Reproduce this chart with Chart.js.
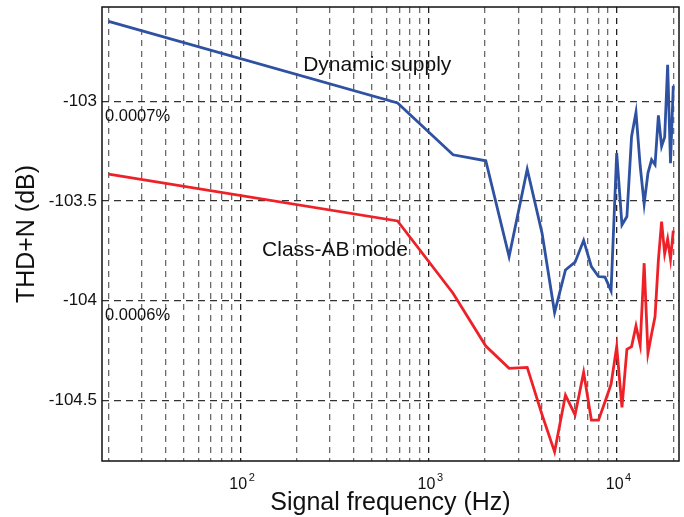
<!DOCTYPE html>
<html>
<head>
<meta charset="utf-8">
<script src="https://cdn.jsdelivr.net/npm/chart.js@4"></script>
<style>
  html, body { margin: 0; padding: 0; background: #fff; }
  #wrap { width: 684px; height: 517px; }
</style>
</head>
<body>
<div id="wrap"><canvas id="thdChart" width="684" height="517"></canvas></div>
<script>
// frequencies in Hz
const freqs = [20, 686, 1352, 2018, 2684, 3350, 4016, 4682, 5348, 6014, 6680,
  7346, 8012, 8678, 9344, 10010, 10676, 11342, 12008, 12674, 13340,
  14006, 14672, 15338, 16004, 16670, 17336, 18002, 18668, 19334, 20000];

// THD+N in dB
const dynamicSupply = [-102.598, -103.008, -103.268, -103.298, -103.779, -103.340,
  -103.661, -104.060, -103.846, -103.807, -103.698, -103.829, -103.879, -103.882,
  -103.951, -103.259, -103.620, -103.578, -103.176, -103.055, -103.323, -103.514,
  -103.360, -103.293, -103.318, -103.070, -103.226, -103.179, -102.816, -103.310,
  -102.921];

const classAB = [-103.365, -103.600, -103.963, -104.228, -104.340, -104.335,
  -104.572, -104.759, -104.474, -104.574, -104.360, -104.600, -104.600, -104.508,
  -104.419, -104.231, -104.536, -104.244, -104.231, -104.127, -104.223, -103.812,
  -104.264, -104.167, -104.080, -103.795, -103.603, -103.765, -103.691, -103.792,
  -103.648];

const gridFreqs = [20, 30, 40, 50, 60, 70, 80, 90,
  100, 200, 300, 400, 500, 600, 700, 800, 900,
  1000, 2000, 3000, 4000, 5000, 6000, 7000, 8000, 9000,
  10000, 20000];
const decadeTicks = [100, 1000, 10000];
const decadeExps = ['2', '3', '4'];
const yTicks = [-104.5, -104, -103.5, -103];

const FONT = 'Liberation Sans, Arial, Helvetica, sans-serif';

const pairs = vals => freqs.map((f, i) => ({ x: f, y: vals[i] }));

// frame, 10^n tick labels and the text inside the plot
const extras = {
  id: 'extras',
  afterDraw(chart) {
    const { ctx, chartArea: a, scales: { x, y } } = chart;
    ctx.save();
    ctx.strokeStyle = '#111';
    ctx.lineWidth = 1.5;
    ctx.strokeRect(a.left, a.top, a.right - a.left, a.bottom - a.top);

    ctx.fillStyle = '#111';
    ctx.textBaseline = 'alphabetic';
    decadeTicks.forEach((v, i) => {
      const px = x.getPixelForValue(v);
      ctx.font = '16px ' + FONT;
      ctx.textAlign = 'right';
      ctx.fillText('10', px + 7, a.bottom + 28);
      ctx.font = '11px ' + FONT;
      ctx.textAlign = 'left';
      ctx.fillText(decadeExps[i], px + 8.5, a.bottom + 20);
    });

    ctx.textBaseline = 'middle';
    ctx.textAlign = 'center';
    ctx.font = '21px ' + FONT;
    ctx.fillText('Dynamic supply', x.getPixelForValue(535), y.getPixelForValue(-102.82));
    ctx.fillText('Class-AB mode', x.getPixelForValue(319), y.getPixelForValue(-103.745));

    ctx.textAlign = 'left';
    ctx.font = '16.5px ' + FONT;
    ctx.fillText('0.0007%', a.left + 3, y.getPixelForValue(-103.075));
    ctx.fillText('0.0006%', a.left + 3, y.getPixelForValue(-104.075));
    ctx.restore();
  }
};

new Chart(document.getElementById('thdChart'), {
  type: 'line',
  data: {
    datasets: [
      {
        label: 'Dynamic supply',
        data: pairs(dynamicSupply),
        borderColor: '#2f51a2',
        borderWidth: 2.8,
        pointRadius: 0,
        tension: 0
      },
      {
        label: 'Class-AB mode',
        data: pairs(classAB),
        borderColor: '#ee2128',
        borderWidth: 2.8,
        pointRadius: 0,
        tension: 0
      }
    ]
  },
  options: {
    responsive: false,
    animation: false,
    layout: { padding: 0 },
    plugins: { legend: { display: false }, tooltip: { enabled: false } },
    scales: {
      x: {
        type: 'logarithmic',
        min: 18.45,
        max: 21450,
        afterBuildTicks: s => { s.ticks = gridFreqs.map(v => ({ value: v })); },
        afterFit: s => {
          s.height = 56;
          s.paddingLeft = 0;
          s.paddingRight = 5;
        },
        border: { display: false, dash: [6, 5] },
        grid: {
          drawTicks: false,
          lineWidth: 1.3,
          color: c => decadeTicks.includes(c.tick.value) ? '#222' : '#6a6a6a'
        },
        ticks: {
          autoSkip: false,
          maxRotation: 0,
          callback: () => ''
        },
        title: {
          display: true,
          text: 'Signal frequency (Hz)',
          color: '#111',
          font: { family: FONT, size: 25 },
          padding: { top: 0, bottom: -1 }
        }
      },
      y: {
        min: -104.805,
        max: -102.526,
        afterBuildTicks: s => { s.ticks = yTicks.map(v => ({ value: v })); },
        afterFit: s => {
          s.width = 102;
          s.paddingTop = 7;
          s.paddingBottom = 0;
        },
        border: { display: false, dash: [7, 5] },
        grid: {
          drawTicks: false,
          lineWidth: 1.3,
          color: '#333'
        },
        ticks: {
          padding: 5,
          color: '#111',
          font: { family: FONT, size: 17 },
          callback: v => String(v)
        },
        title: {
          display: true,
          text: 'THD+N (dB)',
          color: '#111',
          font: { family: FONT, size: 25 },
          padding: { top: 12, bottom: 0 }
        }
      }
    }
  },
  plugins: [extras]
});
</script>
</body>
</html>
